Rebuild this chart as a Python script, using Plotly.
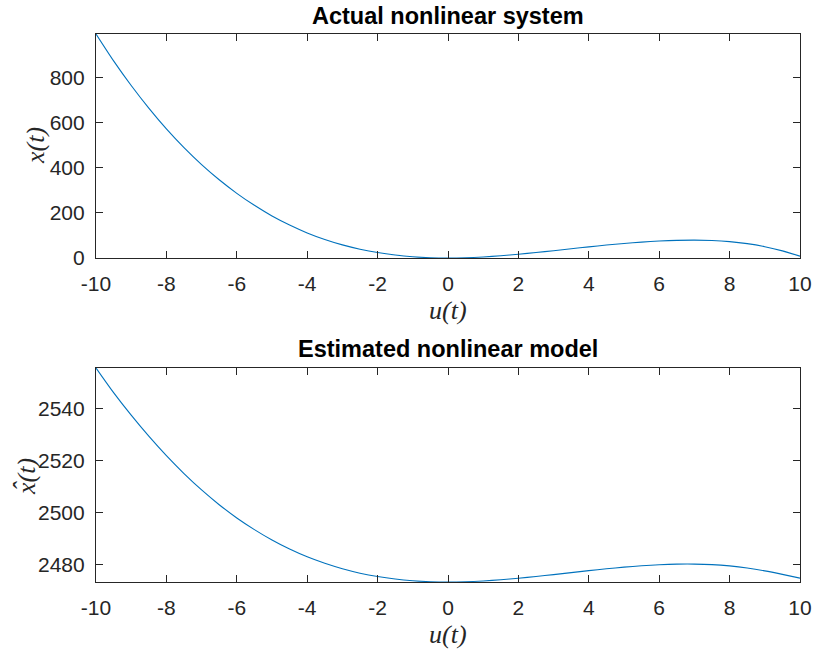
import plotly.graph_objects as go

# Input sweep u(t)
u_vals = [-10.0, -9.5, -9.0, -8.5, -8.0, -7.5, -7.0, -6.5, -6.0, -5.5, -5.0,
          -4.5, -4.0, -3.5, -3.0, -2.5, -2.0, -1.5, -1.0, -0.5, 0.0,
          0.5, 1.0, 1.5, 2.0, 2.5, 3.0, 3.5, 4.0, 4.5, 5.0,
          5.5, 6.0, 6.5, 7.0, 7.5, 8.0, 8.5, 9.0, 9.5, 10.0]

# Response of the actual nonlinear system x(t)
x_actual = [991, 872, 763, 663, 571, 488, 413, 346, 286, 233, 186,
            146, 111, 82, 58, 39, 24, 13, 5.5, 1.3, 0,
            1.2, 4.6, 9.8, 16.5, 24.2, 32.4, 40.9, 49.3, 57.2, 64.3,
            70.4, 75.0, 78.0, 79.0, 77.5, 72.5, 63.5, 50.0, 31.5, 8.0]

# Response of the estimated nonlinear model x̂(t)
x_model = [2555.8, 2546.3, 2537.6, 2529.5, 2522.0, 2515.1, 2508.8, 2503.1, 2498.0, 2493.5, 2489.5,
           2486.0, 2483.0, 2480.5, 2478.4, 2476.7, 2475.4, 2474.45, 2473.8, 2473.42, 2473.3,
           2473.41, 2473.71, 2474.16, 2474.75, 2475.42, 2476.15, 2476.92, 2477.67, 2478.39, 2479.02,
           2479.56, 2479.96, 2480.18, 2480.2, 2480.0, 2479.5, 2478.7, 2477.6, 2476.25, 2474.8]

x_ticks = [-10, -8, -6, -4, -2, 0, 2, 4, 6, 8, 10]
x_tick_text = ["-10", "-8", "-6", "-4", "-2", "0", "2", "4", "6", "8", "10"]
top_y_ticks = [0, 200, 400, 600, 800]
bottom_y_ticks = [2480, 2500, 2520, 2540]

titles = ["Actual nonlinear system", "Estimated nonlinear model"]
y_labels = ["x(t)", "x(t)"]
x_label = "u(t)"

W, H = 813, 651
LINE_BLUE = "#0072BD"
AX_COLOR = "#262626"
SANS = "Liberation Sans, Arial, Helvetica, sans-serif"
SERIF = "Liberation Serif, Times New Roman, serif"


def py(px):
    """Convert a pixel row (from top) to paper coordinates."""
    return 1 - px / H


def pxx(px):
    return px / W


fig = go.Figure()
fig.add_trace(go.Scatter(x=u_vals, y=x_actual, mode="lines",
                         line=dict(color=LINE_BLUE, width=1.1, shape="spline", smoothing=0.8),
                         xaxis="x", yaxis="y", showlegend=False))
fig.add_trace(go.Scatter(x=u_vals, y=x_model, mode="lines",
                         line=dict(color=LINE_BLUE, width=1.1, shape="spline", smoothing=0.8),
                         xaxis="x2", yaxis="y2", showlegend=False))

axis_common = dict(
    showline=True, linecolor=AX_COLOR, linewidth=1.2, mirror="allticks",
    ticks="inside", ticklen=7, tickwidth=1, tickcolor=AX_COLOR,
    showgrid=False, zeroline=False, automargin=False,
    tickfont=dict(family=SANS, size=21, color=AX_COLOR),
)

x_dom = [pxx(96), pxx(800)]
top_dom = [py(258), py(34)]
bot_dom = [py(582), py(368)]

fig.update_layout(
    width=W, height=H,
    margin=dict(l=0, r=0, t=0, b=0, autoexpand=False),
    paper_bgcolor="white", plot_bgcolor="white",
    xaxis=dict(domain=x_dom, anchor="y", range=[min(u_vals), max(u_vals)],
               tickvals=x_ticks, ticktext=x_tick_text, ticklabelstandoff=7,
               **axis_common),
    yaxis=dict(domain=top_dom, anchor="x", range=[min(x_actual), max(x_actual)],
               tickvals=top_y_ticks, ticklabelstandoff=6, **axis_common),
    xaxis2=dict(domain=x_dom, anchor="y2", range=[min(u_vals), max(u_vals)],
                tickvals=x_ticks, ticktext=x_tick_text, ticklabelstandoff=7,
                **axis_common),
    yaxis2=dict(domain=bot_dom, anchor="x2", range=[min(x_model), max(x_model)],
                tickvals=bottom_y_ticks, ticklabelstandoff=6, **axis_common),
)

cx = pxx(448)
label_font = dict(family=SERIF, size=26, color=AX_COLOR)
annotations = [
    dict(text="<b>%s</b>" % titles[0], x=cx, y=py(15.7), xanchor="center", yanchor="middle",
         font=dict(family=SANS, size=23.5, color="black")),
    dict(text="<b>%s</b>" % titles[1], x=cx, y=py(349.2), xanchor="center", yanchor="middle",
         font=dict(family=SANS, size=23.5, color="black")),
    dict(text="<i>%s</i>" % x_label, x=cx, y=py(310), xanchor="center", yanchor="middle",
         font=label_font),
    dict(text="<i>%s</i>" % x_label, x=cx, y=py(634), xanchor="center", yanchor="middle",
         font=label_font),
    dict(text="<i>%s</i>" % y_labels[0], x=pxx(35), y=py(146), xanchor="center", yanchor="middle",
         textangle=-90, font=label_font),
    dict(text="<i>%s</i>" % y_labels[1], x=pxx(26), y=py(476), xanchor="center", yanchor="middle",
         textangle=-90, font=label_font),
    # circumflex accent over the x of the model label
    dict(text="<i>\u02c6</i>", x=pxx(22), y=py(486), xanchor="center", yanchor="middle",
         textangle=-90, font=label_font),
]
for a in annotations:
    a.update(xref="paper", yref="paper", showarrow=False)
fig.update_layout(annotations=annotations)

fig.write_html("out.html")
